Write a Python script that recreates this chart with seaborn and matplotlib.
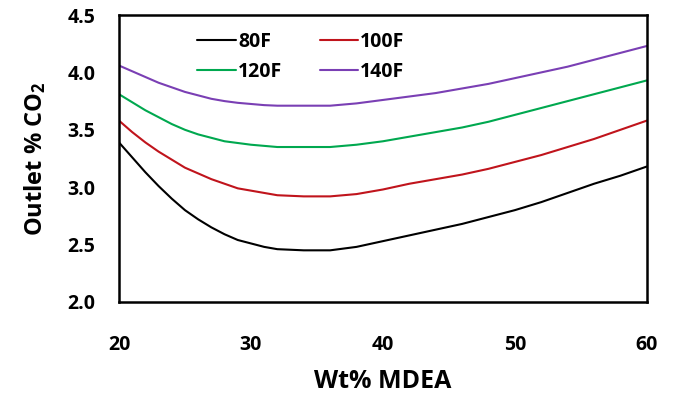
import numpy as np
import pandas as pd
import matplotlib
matplotlib.use("Agg")
import matplotlib.pyplot as plt
import seaborn as sns

# Wt% MDEA values and outlet CO2 (%)
wt_mdea = [20, 21, 22, 23, 24, 25, 26, 27, 28, 29, 30, 31, 32, 33, 34,
           36, 38, 40, 42, 44, 46, 48, 50, 52, 54, 56, 58, 60]
co2_80f = [3.39, 3.26, 3.13, 3.01, 2.90, 2.80, 2.72, 2.65, 2.59, 2.54,
           2.51, 2.48, 2.46, 2.455, 2.45,
           2.45, 2.48, 2.53, 2.58, 2.63, 2.68, 2.74, 2.80, 2.87, 2.95,
           3.03, 3.10, 3.18]
co2_100f = [3.58, 3.48, 3.39, 3.31, 3.24, 3.17, 3.12, 3.07, 3.03, 2.99,
            2.97, 2.95, 2.93, 2.925, 2.92,
            2.92, 2.94, 2.98, 3.03, 3.07, 3.11, 3.16, 3.22, 3.28, 3.35,
            3.42, 3.50, 3.58]
co2_120f = [3.81, 3.74, 3.67, 3.61, 3.55, 3.50, 3.46, 3.43, 3.40, 3.385,
            3.37, 3.36, 3.35, 3.35, 3.35,
            3.35, 3.37, 3.40, 3.44, 3.48, 3.52, 3.57, 3.63, 3.69, 3.75,
            3.81, 3.87, 3.93]
co2_140f = [4.06, 4.01, 3.96, 3.91, 3.87, 3.83, 3.80, 3.77, 3.75, 3.735,
            3.725, 3.715, 3.71, 3.71, 3.71,
            3.71, 3.73, 3.76, 3.79, 3.82, 3.86, 3.90, 3.95, 4.00, 4.05,
            4.11, 4.17, 4.23]
temps = ["80F", "100F", "120F", "140F"]
colors = ["#000000", "#C0141C", "#00A84F", "#7A3FB4"]

df = pd.DataFrame({"Wt% MDEA": wt_mdea, "80F": co2_80f, "100F": co2_100f,
                   "120F": co2_120f, "140F": co2_140f})
df = df.melt(id_vars="Wt% MDEA", var_name="temp", value_name="co2")

sns.set_style("white")
plt.rcParams["font.family"] = ["Open Sans", "DejaVu Sans"]
plt.rcParams["font.weight"] = "bold"
plt.rcParams["mathtext.default"] = "regular"
plt.rcParams["text.color"] = "black"
plt.rcParams["xtick.color"] = "black"
plt.rcParams["ytick.color"] = "black"
plt.rcParams["axes.labelcolor"] = "black"

fig = plt.figure(figsize=(6.78, 3.93), dpi=100)
ax = fig.add_axes([0.1755, 0.2316, 0.7785, 0.7302])
sns.lineplot(data=df, x="Wt% MDEA", y="co2", hue="temp", hue_order=temps,
             palette=colors, linewidth=1.5, ax=ax)

ax.set_xlim(20, 60)
ax.set_ylim(2.0, 4.5)
ax.set_xticks([20, 30, 40, 50, 60])
ax.set_yticks([2.0, 2.5, 3.0, 3.5, 4.0, 4.5])
ax.set_yticklabels(["2.0", "2.5", "3.0", "3.5", "4.0", "4.5"])
ax.tick_params(direction="in", length=5, width=1.8, labelsize=14)
ax.tick_params(axis="x", pad=24)
ax.tick_params(axis="y", pad=17)
for s in ax.spines.values():
    s.set_linewidth(1.8)
    s.set_color("black")

ax.set_xlabel("Wt% MDEA", fontsize=18, fontweight="bold", labelpad=10)
ax.set_ylabel("Outlet % CO$_2$", fontsize=17, fontweight="bold", labelpad=14)

# row-wise legend order: 80F 100F / 120F 140F
handles, labels = ax.get_legend_handles_labels()
order = [0, 2, 1, 3]
leg = ax.legend([handles[i] for i in order], [labels[i] for i in order],
                loc="upper left", bbox_to_anchor=(0.134, 0.967), ncol=2,
                frameon=False, fontsize=14, handlelength=2.0,
                handletextpad=0.1, columnspacing=1.9, labelspacing=0.5,
                borderaxespad=0)
for h in leg.get_lines():
    h.set_linewidth(1.5)

fig.savefig("out.png", dpi=100)
